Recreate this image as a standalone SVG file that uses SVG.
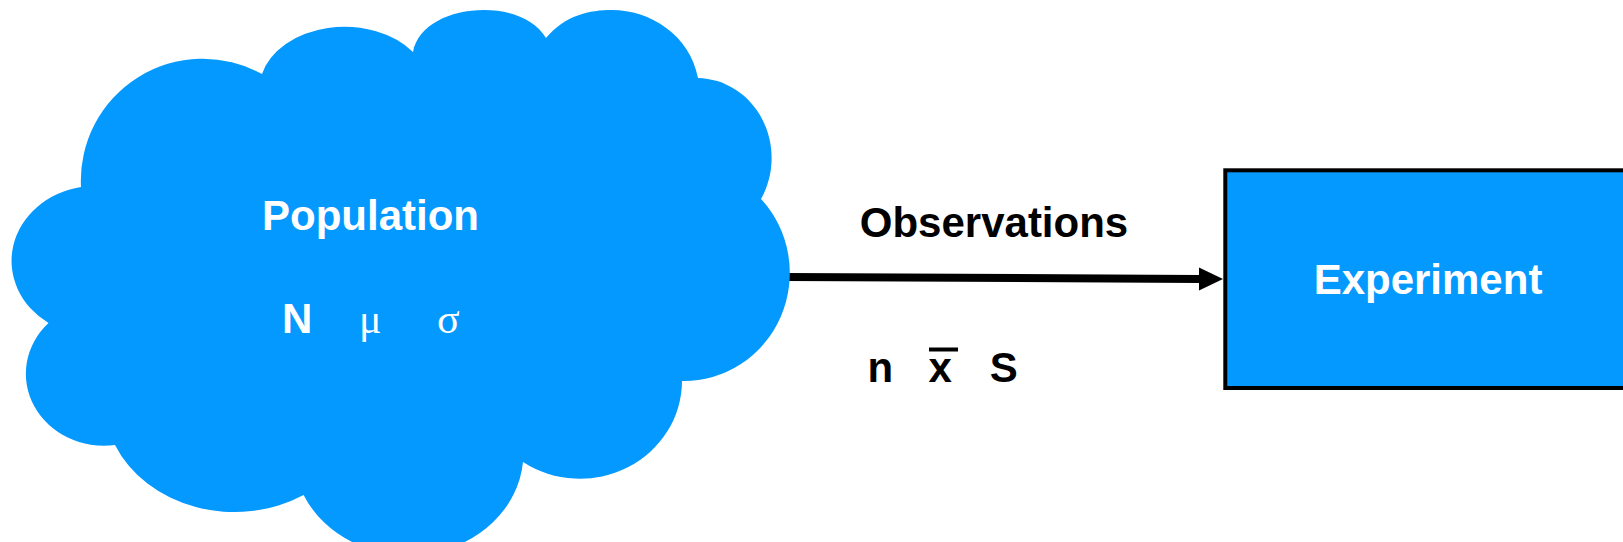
<svg xmlns="http://www.w3.org/2000/svg" width="1623" height="542" viewBox="0 0 1623 542">
<style>
.fill{fill:#0399FF}
.lbl{font-family:"Liberation Sans",Arial,sans-serif;font-weight:bold;font-size:42px}
.sym{font-family:"Liberation Serif","Times New Roman",serif;font-size:42px}
.w{fill:#FFFFFF}
.k{fill:#000000}
</style>
<g id="connectors">
<path d="M786,277 L1200,279" stroke="#000" stroke-width="8" fill="none"/>
<path d="M1199,267.5 L1223,279 L1199,290.5 Z" fill="#000"/>
<text class="lbl k" x="994" y="237" text-anchor="middle">Observations</text>
<text class="lbl k" x="867.5" y="382">n</text>
<text class="lbl k" x="928.5" y="382">x</text>
<line x1="929" y1="349.5" x2="958" y2="349.5" stroke="#000" stroke-width="4"/>
<text class="lbl k" x="989.8" y="382">S</text>
</g>
<g id="population">
<path class="fill" d="M81,187 A122,122 0 0 1 262,74 A85,62 0 0 1 413,52 C418,25 450,10 484,10 C512,10 535,20 546,38 C565,15 590,10 612,10 C650,10 690,35 698,78 A75,80 0 0 1 761,199 A106,108 0 0 1 682,381 A102,98 0 0 1 523,462 A115,102 0 0 1 303.6,495 A130,111 0 0 1 115,445 A78,72 0 0 1 48.5,323 A84,75 0 0 1 81,187 Z"/>
<text class="lbl w" x="370.5" y="229.5" text-anchor="middle">Population</text>
<text class="lbl w" x="282" y="332.5">N</text>
<text class="sym w" x="359" y="332.5">μ</text>
<text class="sym w" x="437" y="332.5">σ</text>
</g>
<g id="experiment">
<rect class="fill" x="1225.3" y="170.3" width="500" height="217.7" stroke="#000" stroke-width="4"/>
<text class="lbl w" x="1428" y="293.5" text-anchor="middle">Experiment</text>
</g>
</svg>
